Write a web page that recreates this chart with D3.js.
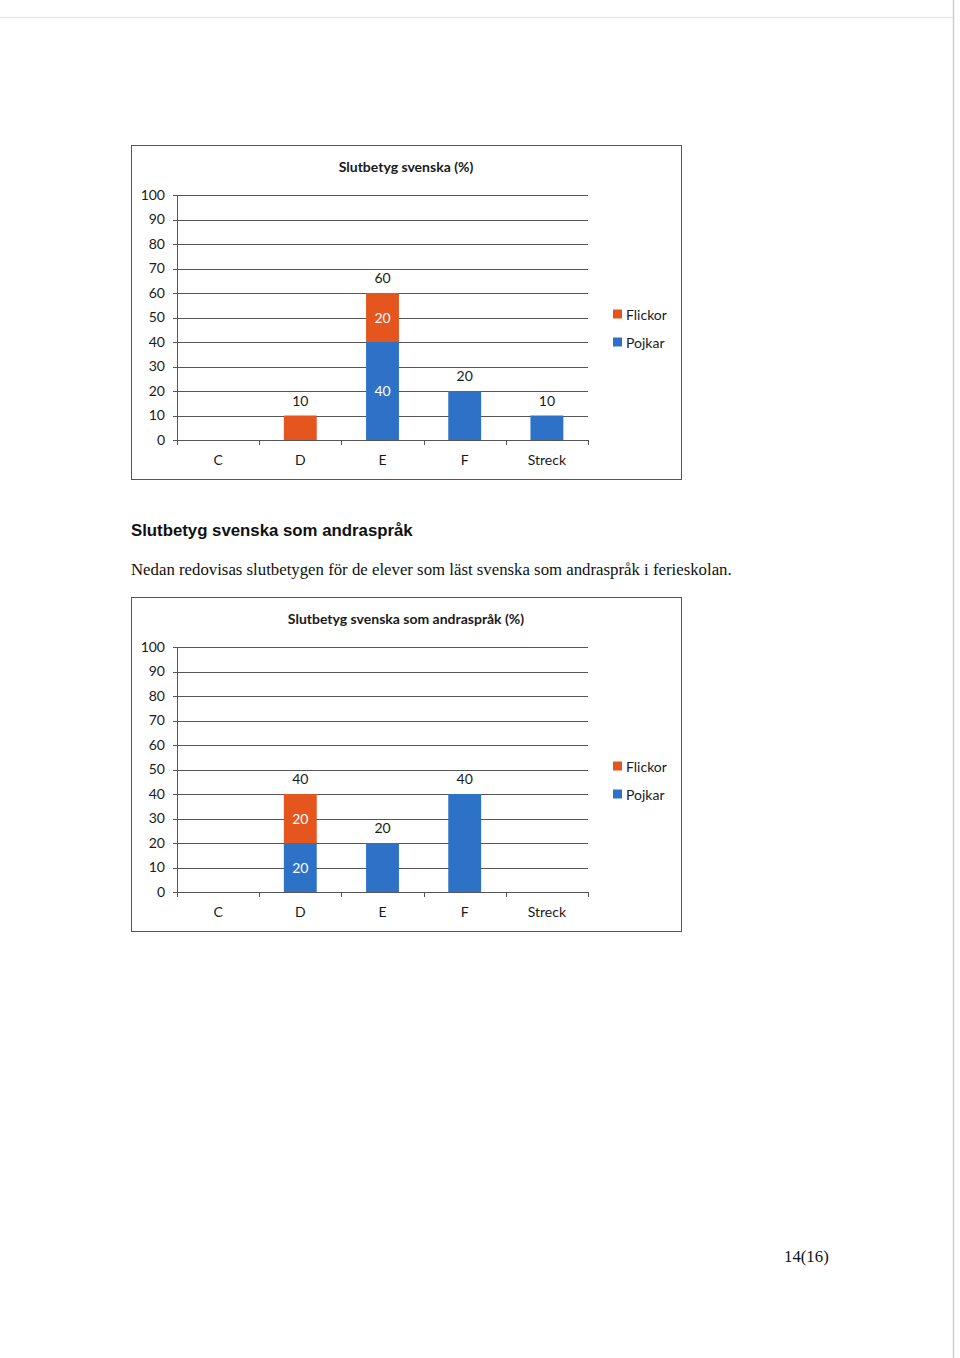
<!DOCTYPE html>
<html>
<head>
<meta charset="utf-8">
<script src="https://cdn.jsdelivr.net/npm/d3@7"></script>
<style>
  body { margin: 0; background: #fff; }
  .chart text { font-family: Lato, "Open Sans", sans-serif; fill: #1a1a1a; }
  .axis .domain { display: none; }
  .heading { font-family: "Liberation Sans", Arial, sans-serif; font-weight: bold; font-size: 16.8px; fill: #111; }
  .body { font-family: "Liberation Serif", "Times New Roman", serif; font-size: 16.8px; fill: #111; }
</style>
</head>
<body>
<svg id="page"></svg>
<script>
var width = 960,
  height = 1358;

var categories = ['C', 'D', 'E', 'F', 'Streck'];
var seriesNames = ['Pojkar', 'Flickor'];
var yTicks = [0, 10, 20, 30, 40, 50, 60, 70, 80, 90, 100];

// chart 1: Slutbetyg svenska (%)
var svFlickor = [0, 10, 20, 0, 0];
var svPojkar = [0, 0, 40, 20, 10];

// chart 2: Slutbetyg svenska som andraspråk (%)
var sasFlickor = [0, 20, 0, 0, 0];
var sasPojkar = [0, 20, 20, 40, 0];

var colors = { Flickor: '#e4561d', Pojkar: '#2e72c8' };

var svg = d3.select('#page')
  .attr('width', width)
  .attr('height', height);

// scanned page edges
svg.append('line')
  .attr('x1', 0).attr('x2', 953).attr('y1', 17.5).attr('y2', 17.5)
  .attr('stroke', '#e2e2e2');
svg.append('line')
  .attr('x1', 953.5).attr('x2', 953.5).attr('y1', 0).attr('y2', height)
  .attr('stroke', '#cfcfcf').attr('stroke-width', 1.5);

function drawChart(top, title, flickor, pojkar) {
  var g = svg.append('g')
    .attr('class', 'chart')
    .attr('transform', 'translate(131,' + top + ')');

  // frame
  g.append('rect')
    .attr('x', 0.5).attr('y', 0.5)
    .attr('width', 550).attr('height', 334)
    .attr('fill', 'none')
    .attr('stroke', '#555')
    .attr('stroke-width', 1);

  g.append('text')
    .attr('x', 275)
    .attr('y', 27)
    .attr('text-anchor', 'middle')
    .attr('font-size', 14)
    .attr('font-weight', 'bold')
    .text(title);

  var x = d3.scaleBand()
    .domain(categories)
    .range([46, 457])
    .paddingInner(0.6)
    .paddingOuter(0.3);

  var y = d3.scaleLinear()
    .domain([0, 100])
    .range([295, 50]);

  // gridlines
  g.append('g')
    .selectAll('line')
    .data(yTicks)
    .enter().append('line')
    .attr('x1', 42)
    .attr('x2', 457)
    .attr('y1', function(d) { return Math.round(y(d)) + 0.5; })
    .attr('y2', function(d) { return Math.round(y(d)) + 0.5; })
    .attr('stroke', '#555')
    .attr('stroke-width', 1);

  g.append('g')
    .attr('class', 'axis')
    .attr('transform', 'translate(46,0)')
    .call(d3.axisLeft(y).tickValues(yTicks).tickSize(0).tickPadding(12))
    .selectAll('text')
    .attr('font-size', 14);

  // y axis line
  g.append('line')
    .attr('x1', 46.5).attr('x2', 46.5)
    .attr('y1', y(100)).attr('y2', y(0) + 4)
    .attr('stroke', '#555');

  // category boundary ticks
  var step = x.step();
  var bounds = d3.range(categories.length + 1).map(function(i) { return 46 + i * step; });
  g.append('g')
    .selectAll('line')
    .data(bounds)
    .enter().append('line')
    .attr('x1', function(d) { return Math.round(d) + 0.5; })
    .attr('x2', function(d) { return Math.round(d) + 0.5; })
    .attr('y1', y(0))
    .attr('y2', y(0) + 5)
    .attr('stroke', '#555');

  g.append('g')
    .attr('class', 'axis')
    .attr('transform', 'translate(0,' + y(0) + ')')
    .call(d3.axisBottom(x).tickSize(0).tickPadding(15))
    .selectAll('text')
    .attr('font-size', 14);

  var rows = categories.map(function(c, i) {
    return { cat: c, Pojkar: pojkar[i], Flickor: flickor[i] };
  });

  var stacked = d3.stack().keys(seriesNames)(rows);

  var layers = g.append('g')
    .selectAll('g')
    .data(stacked)
    .enter().append('g')
    .attr('fill', function(d) { return colors[d.key]; });

  layers.selectAll('rect')
    .data(function(d) { return d; })
    .enter().append('rect')
    .attr('x', function(d) { return x(d.data.cat); })
    .attr('y', function(d) { return y(d[1]); })
    .attr('width', x.bandwidth())
    .attr('height', function(d) { return y(d[0]) - y(d[1]); });

  // white labels inside segments of split bars
  layers.selectAll('text')
    .data(function(d) {
      return d.filter(function(s) {
        return s[1] > s[0] && s.data.Pojkar > 0 && s.data.Flickor > 0;
      });
    })
    .enter().append('text')
    .attr('x', function(d) { return x(d.data.cat) + x.bandwidth() / 2; })
    .attr('y', function(d) { return y((d[0] + d[1]) / 2) + 5; })
    .attr('text-anchor', 'middle')
    .attr('font-size', 14)
    .style('fill', '#fff')
    .text(function(d) { return d[1] - d[0]; });

  // totals above bars
  g.append('g')
    .selectAll('text')
    .data(rows.filter(function(r) { return r.Pojkar + r.Flickor > 0; }))
    .enter().append('text')
    .attr('x', function(d) { return x(d.cat) + x.bandwidth() / 2; })
    .attr('y', function(d) { return y(d.Pojkar + d.Flickor) - 10; })
    .attr('text-anchor', 'middle')
    .attr('font-size', 14)
    .text(function(d) { return d.Pojkar + d.Flickor; });

  // legend
  var legend = g.append('g')
    .attr('transform', 'translate(482,' + (y(50) - 3) + ')')
    .selectAll('g')
    .data(['Flickor', 'Pojkar'])
    .enter().append('g')
    .attr('transform', function(d, i) { return 'translate(0,' + i * 28 + ')'; });

  legend.append('rect')
    .attr('x', 0).attr('y', -5)
    .attr('width', 9).attr('height', 9)
    .attr('fill', function(d) { return colors[d]; });

  legend.append('text')
    .attr('x', 13)
    .attr('y', 5)
    .attr('font-size', 14)
    .text(function(d) { return d; });
}

drawChart(145, 'Slutbetyg svenska (%)', svFlickor, svPojkar);

svg.append('text')
  .attr('class', 'heading')
  .attr('x', 131)
  .attr('y', 536)
  .text('Slutbetyg svenska som andraspråk');

svg.append('text')
  .attr('class', 'body')
  .attr('x', 131)
  .attr('y', 575)
  .text('Nedan redovisas slutbetygen för de elever som läst svenska som andraspråk i ferieskolan.');

drawChart(597, 'Slutbetyg svenska som andraspråk (%)', sasFlickor, sasPojkar);

svg.append('text')
  .attr('class', 'body')
  .attr('x', 784)
  .attr('y', 1262)
  .text('14(16)');
</script>
</body>
</html>
